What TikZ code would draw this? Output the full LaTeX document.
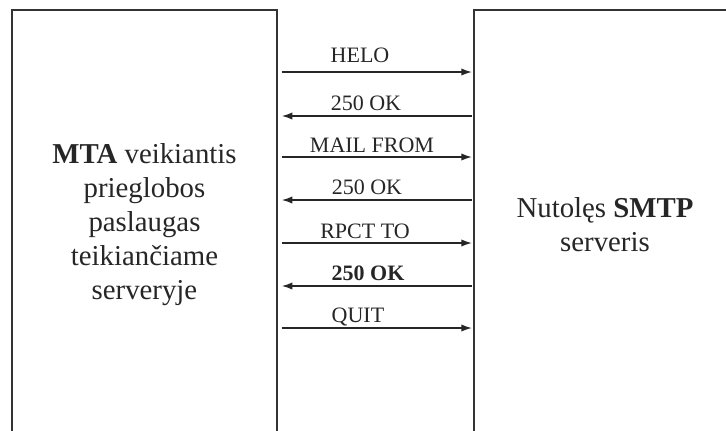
\documentclass[tikz,border=0pt]{standalone}
\usepackage{fontspec}
\setmainfont{Liberation Serif}
\usetikzlibrary{arrows.meta}
\definecolor{boxline}{HTML}{333333}
\tikzset{
  box/.style={draw=boxline, line width=1.1pt, rectangle, align=center, inner sep=0pt,
    font=\fontsize{21.6}{25.5}\selectfont, text=black!85},
  lbl/.style={anchor=base, inner sep=0pt, font=\fontsize{16.5}{18}\selectfont, text=black!85},
  msg/.style={draw=black!85, line width=1.1pt, -{Latex[length=8pt,width=5.5pt]}},
}
\begin{document}
\begin{tikzpicture}[x=0.75pt,y=-0.75pt]
\useasboundingbox (0,0) rectangle (726,430);
\clip (0,0) rectangle (726,430);
\node[box, minimum width=265*0.75pt, minimum height=430*0.75pt] (mta) at (144.5,225)
  {\textbf{MTA} veikiantis\\prieglobos\\paslaugas\\teikiančiame\\serveryje};
\node[box, minimum width=262*0.75pt, minimum height=430*0.75pt] (smtp) at (605,225)
  {Nutolęs \textbf{SMTP}\\serveris};
\node[lbl] (l1) at (360,62) {HELO};
\node[lbl] (l2) at (366,110) {250 OK};
\node[lbl] (l3) at (372,152) {MAIL FROM};
\node[lbl] (l4) at (367,194) {250 OK};
\node[lbl] (l5) at (365,238) {RPCT TO};
\node[lbl] (l6) at (368,280) {\textbf{250 OK}};
\node[lbl] (l7) at (358,322) {QUIT};
\draw[msg, shorten <=3pt, shorten >=1pt] (mta.east |- 0,72) -- (smtp.west |- 0,72);
\draw[msg, shorten <=1pt, shorten >=3pt] (smtp.west |- 0,116) -- (mta.east |- 0,116);
\draw[msg, shorten <=3pt, shorten >=1pt] (mta.east |- 0,157) -- (smtp.west |- 0,157);
\draw[msg, shorten <=1pt, shorten >=3pt] (smtp.west |- 0,200) -- (mta.east |- 0,200);
\draw[msg, shorten <=3pt, shorten >=1pt] (mta.east |- 0,243) -- (smtp.west |- 0,243);
\draw[msg, shorten <=1pt, shorten >=3pt] (smtp.west |- 0,286) -- (mta.east |- 0,286);
\draw[msg, shorten <=3pt, shorten >=1pt] (mta.east |- 0,328) -- (smtp.west |- 0,328);
\end{tikzpicture}
\end{document}
